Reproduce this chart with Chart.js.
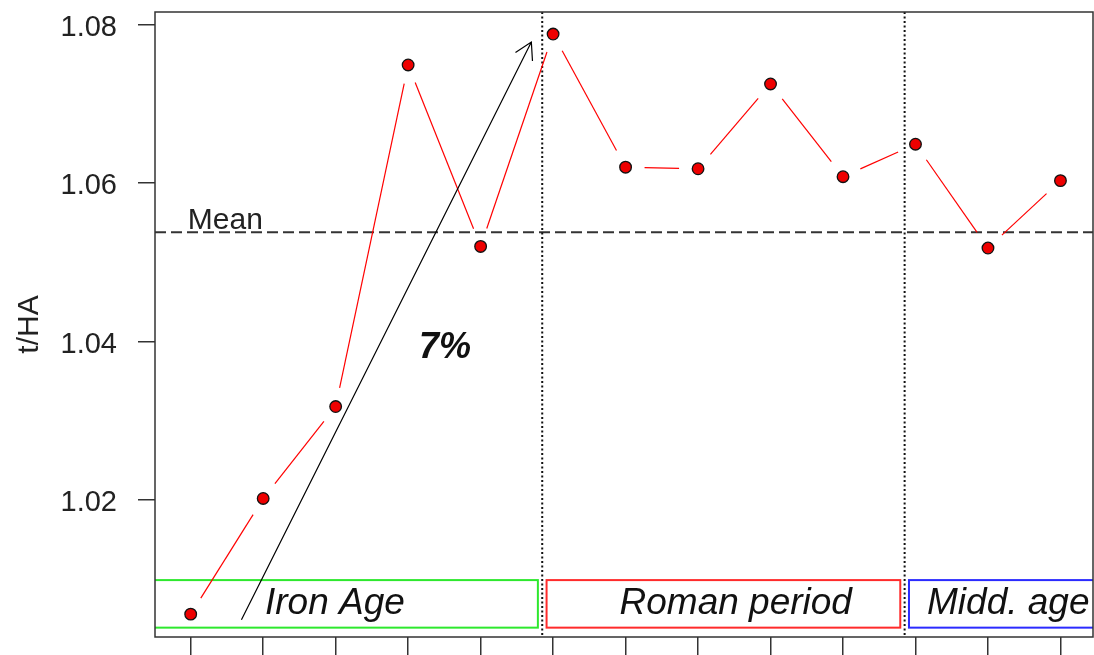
<!DOCTYPE html>
<html>
<head>
<meta charset="utf-8">
<script src="https://cdn.jsdelivr.net/npm/chart.js@4.4.0/dist/chart.umd.min.js"></script>
<style>
  html, body { margin: 0; padding: 0; background: #fff; }
</style>
</head>
<body>
<canvas id="myChart" width="1094" height="655"></canvas>
<script>
// datos
const xPos = [0, 1, 2, 3, 4, 5, 6, 7, 8, 9, 10, 11, 12]
const yieldVals = [1.0056, 1.0202, 1.0318, 1.0749, 1.0520, 1.0788, 1.0620, 1.0618, 1.0725, 1.0608, 1.0649, 1.0518, 1.0603]
const yTicks = [1.02, 1.04, 1.06, 1.08]
const meanVal = 1.0538
const meanLabel = 'Mean'

const periodNames = ['Iron Age', 'Roman period', 'Midd. age']
const periodFrom = [-1, 4.85, 9.85]
const periodTo = [4.85, 9.85, 14]
const periodColors = ['#2ee82e', '#ff2b2b', '#2b2bff']
const periodLabelX = [1.99, 7.52, 11.28]
const boxTop = 1.0099
const boxBottom = 1.0039
const labelY = 1.0056

const arrowFrom = [0.7, 1.0049]
const arrowTo = [4.7, 1.0778]
const growthLabel = '7%'
const growthPos = [3.51, 1.0379]

const FONT = "'Liberation Sans', Arial, sans-serif"

// quita el relleno automatico que Chart.js agrega por las etiquetas
function noPad(s) {
  s.paddingTop = 0
  s.paddingBottom = 0
  s.paddingLeft = 0
  s.paddingRight = 0
}

const extras = {
  id: 'extras',
  beforeDatasetsDraw(chart) {
    const { ctx, chartArea: a, scales: { x, y } } = chart
    ctx.save()
    ctx.beginPath()
    ctx.rect(a.left, a.top, a.right - a.left, a.bottom - a.top)
    ctx.clip()

    // linea de la media
    ctx.strokeStyle = '#333'
    ctx.lineWidth = 2
    ctx.setLineDash([11, 5])
    ctx.beginPath()
    ctx.moveTo(a.left, y.getPixelForValue(meanVal))
    ctx.lineTo(a.right, y.getPixelForValue(meanVal))
    ctx.stroke()

    // limites de periodos
    ctx.strokeStyle = '#111'
    ctx.lineWidth = 2
    ctx.setLineDash([2, 2.5])
    for (let i = 1; i < periodFrom.length; i++) {
      const px = x.getPixelForValue(periodFrom[i])
      ctx.beginPath()
      ctx.moveTo(px, a.top)
      ctx.lineTo(px, a.bottom)
      ctx.stroke()
    }
    ctx.setLineDash([])

    // cajas de periodos
    ctx.lineWidth = 2
    periodNames.forEach((name, i) => {
      const x0 = x.getPixelForValue(periodFrom[i] + 0.06)
      const x1 = x.getPixelForValue(periodTo[i] - 0.06)
      const y0 = y.getPixelForValue(boxTop)
      const y1 = y.getPixelForValue(boxBottom)
      ctx.strokeStyle = periodColors[i]
      ctx.strokeRect(x0, y0, x1 - x0, y1 - y0)
    })

    // segmentos tipo "b" (con hueco alrededor de cada punto)
    const pts = chart.getDatasetMeta(0).data
    ctx.strokeStyle = '#ff0000'
    ctx.lineWidth = 1.2
    const gap = 19
    for (let i = 0; i < pts.length - 1; i++) {
      const p0 = pts[i], p1 = pts[i + 1]
      const dx = p1.x - p0.x, dy = p1.y - p0.y
      const len = Math.hypot(dx, dy)
      if (len <= 2 * gap) continue
      const ux = dx / len, uy = dy / len
      ctx.beginPath()
      ctx.moveTo(p0.x + ux * gap, p0.y + uy * gap)
      ctx.lineTo(p1.x - ux * gap, p1.y - uy * gap)
      ctx.stroke()
    }
    ctx.restore()
  },
  afterDatasetsDraw(chart) {
    const { ctx, chartArea: a, scales: { x, y } } = chart
    ctx.save()
    ctx.beginPath()
    ctx.rect(a.left, a.top, a.right - a.left, a.bottom - a.top)
    ctx.clip()

    // flecha
    const ax0 = x.getPixelForValue(arrowFrom[0]), ay0 = y.getPixelForValue(arrowFrom[1])
    const ax1 = x.getPixelForValue(arrowTo[0]), ay1 = y.getPixelForValue(arrowTo[1])
    ctx.strokeStyle = '#000'
    ctx.lineWidth = 1.2
    ctx.beginPath()
    ctx.moveTo(ax0, ay0)
    ctx.lineTo(ax1, ay1)
    const ang = Math.atan2(ay0 - ay1, ax0 - ax1)
    const hl = 19, ha = Math.PI / 6
    ctx.moveTo(ax1 + hl * Math.cos(ang - ha), ay1 + hl * Math.sin(ang - ha))
    ctx.lineTo(ax1, ay1)
    ctx.lineTo(ax1 + hl * Math.cos(ang + ha), ay1 + hl * Math.sin(ang + ha))
    ctx.stroke()

    // textos
    ctx.fillStyle = '#111'
    ctx.textBaseline = 'alphabetic'
    ctx.font = `italic 37px ${FONT}`
    ctx.textAlign = 'center'
    periodNames.forEach((name, i) => {
      ctx.fillText(name, x.getPixelForValue(periodLabelX[i]), y.getPixelForValue(labelY))
    })

    ctx.font = `bold italic 36px ${FONT}`
    ctx.fillText(growthLabel, x.getPixelForValue(growthPos[0]), y.getPixelForValue(growthPos[1]))

    ctx.font = `30px ${FONT}`
    ctx.textAlign = 'left'
    ctx.fillStyle = '#222'
    ctx.fillText(meanLabel, x.getPixelForValue(-0.04), y.getPixelForValue(meanVal) - 3)
    ctx.restore()

    // marco
    ctx.save()
    ctx.strokeStyle = '#333'
    ctx.lineWidth = 1.5
    ctx.strokeRect(a.left, a.top, a.right - a.left, a.bottom - a.top)
    ctx.restore()
  }
}

const ctx = document.getElementById('myChart').getContext('2d')
const myChart = new Chart(ctx, {
  type: 'line',
  data: {
    datasets: [{
      label: 't/HA',
      data: xPos.map((v, i) => ({ x: v, y: yieldVals[i] })),
      showLine: false,
      pointRadius: 5.8,
      pointBorderWidth: 1.3,
      pointBackgroundColor: '#ee0000',
      pointBorderColor: '#111',
    }],
  },
  options: {
    responsive: false,
    animation: false,
    events: [],
    layout: { autoPadding: false, padding: { top: 12, right: 1, bottom: 0, left: 0 } },
    plugins: { legend: { display: false }, tooltip: { enabled: false } },
    scales: {
      x: {
        type: 'linear',
        min: -0.4925,
        max: 12.449,
        afterBuildTicks: s => { s.ticks = xPos.map(v => ({ value: v })) },
        afterFit: s => { s.height = 18; noPad(s) },
        ticks: { display: false },
        grid: { drawOnChartArea: false, drawTicks: true, tickLength: 20, tickColor: '#333', lineWidth: 1.5 },
        border: { display: false },
      },
      y: {
        min: 1.00272,
        max: 1.08158,
        afterBuildTicks: s => { s.ticks = yTicks.map(v => ({ value: v })) },
        afterFit: s => { s.width = 155; noPad(s) },
        ticks: {
          callback: v => v.toFixed(2),
          font: { family: FONT, size: 29 },
          color: '#222',
          padding: 21,
          labelOffset: 3,
        },
        grid: { drawOnChartArea: false, drawTicks: true, tickLength: 17, tickColor: '#333', lineWidth: 1.5 },
        border: { display: false },
        title: {
          display: true,
          text: 't/HA',
          font: { family: FONT, size: 30 },
          color: '#222',
          padding: { top: 12, bottom: 0 },
        },
      },
    },
  },
  plugins: [extras],
})
</script>
</body>
</html>
